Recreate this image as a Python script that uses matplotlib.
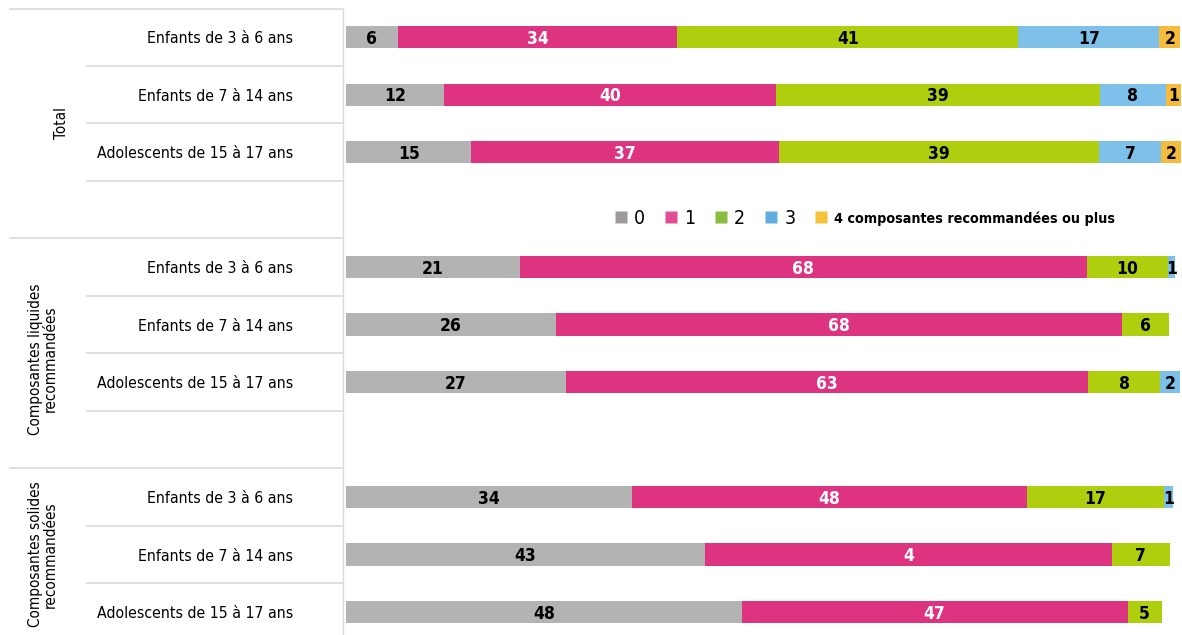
import matplotlib
matplotlib.use("Agg")
import matplotlib.pyplot as plt
from matplotlib.lines import Line2D
from matplotlib import font_manager
from matplotlib.font_manager import FontProperties
import matplotlib.transforms as mtransforms
import numpy as np
import os

# ---------------- data ----------------
categories = ["Enfants de 3 à 6 ans", "Enfants de 7 à 14 ans", "Adolescents de 15 à 17 ans",
              "",
              "Enfants de 3 à 6 ans", "Enfants de 7 à 14 ans", "Adolescents de 15 à 17 ans",
              "",
              "Enfants de 3 à 6 ans", "Enfants de 7 à 14 ans", "Adolescents de 15 à 17 ans"]
groups = ["Total", "Composantes liquides\nrecommandées", "Composantes solides\nrecommandées"]
series_names = ["0", "1", "2", "3", "4 composantes recommandées ou plus"]

# bar lengths (percent); spacer rows are zero
s0 = [6.2, 11.7, 15.0, 0, 20.8, 25.1, 26.3, 0, 34.2, 43.0, 47.4]
s1 = [33.5, 39.8, 36.8, 0, 67.9, 67.8, 62.6, 0, 47.3, 48.7, 46.2]
s2 = [40.8, 38.8, 38.4, 0, 9.7, 5.7, 8.6, 0, 16.5, 7.0, 4.1]
s3 = [16.9, 7.9, 7.4, 0, 0.9, 0, 2.4, 0, 1.0, 0, 0]
s4 = [2.5, 1.8, 2.4, 0, 0, 0, 0, 0, 0, 0, 0]

# printed labels
l0 = ["6", "12", "15", "", "21", "26", "27", "", "34", "43", "48"]
l1 = ["34", "40", "37", "", "68", "68", "63", "", "48", "4", "47"]
l2 = ["41", "39", "39", "", "10", "6", "8", "", "17", "7", "5"]
l3 = ["17", "8", "7", "", "1", "", "2", "", "1", "", ""]
l4 = ["2", "1", "2", "", "", "", "", "", "", "", ""]

colors = ["#b3b3b3", "#de3381", "#afcf0e", "#7dc1ea", "#f5bb3c"]
legend_colors = ["#9e9a9a", "#e04f96", "#88bd3f", "#62aee0", "#f3c13a"]
text_colors = ["black", "white", "black", "black", "black"]


# ---------------- fonts: prefer a condensed face ----------------
def pick_font(bold):
    entries = font_manager.fontManager.ttflist
    def isbold(f):
        w = f.weight if isinstance(f.weight, int) else {"bold": 700, "normal": 400}.get(f.weight, 400)
        return w >= 600
    prefs = [
        lambda f: f.name == "Liberation Sans Narrow",
        lambda f: f.name == "DejaVu Sans" and "Condensed" in os.path.basename(f.fname),
        lambda f: "Condensed" in f.name or "Narrow" in f.name,
    ]
    for p in prefs:
        cands = [f for f in entries if p(f) and isbold(f) == bold
                 and "Oblique" not in f.fname and "Italic" not in f.fname
                 and f.style == "normal"]
        if cands:
            return FontProperties(fname=cands[0].fname)
    return FontProperties(family="DejaVu Sans", weight="bold" if bold else "normal")


FP = pick_font(False)
FPB = pick_font(True)


def fp(size, bold=False):
    p = (FPB if bold else FP).copy()
    p.set_size(size)
    return p


# ---------------- figure ----------------
W, H = 1182, 635
fig = plt.figure(figsize=(W / 100, H / 100), dpi=100)
ax = fig.add_axes([343 / W, 0, (1181 - 343) / W, 1 - 8.5 / H])

y = np.arange(len(categories))
series = [s0, s1, s2, s3, s4]
labels = [l0, l1, l2, l3, l4]
left = np.zeros(len(categories))
for vals, labs, c, tc in zip(series, labels, colors, text_colors):
    vals = np.array(vals, dtype=float)
    ax.barh(y, vals, left=left, height=0.39, color=c, edgecolor="none")
    for yi, (v, l, x0) in enumerate(zip(vals, labs, left)):
        if l:
            ax.text(x0 + v / 2, yi + 0.03, l, ha="center", va="center",
                    color=tc, fontproperties=fp(12.5, True))
    left += vals

ax.set_xlim(-0.36, 100)
ax.set_ylim(10.4, -0.5)
ax.set_xticks([])
ax.set_yticks(y)
ax.set_yticklabels(categories)
for t in ax.get_yticklabels():
    t.set_fontproperties(fp(11.3))
ax.tick_params(axis="y", length=0, pad=36)
for s in ["top", "right", "bottom"]:
    ax.spines[s].set_visible(False)
ax.spines["left"].set_color("#d9d9d9")
ax.spines["left"].set_linewidth(1)

# separator lines
tr = mtransforms.blended_transform_factory(fig.transFigure, ax.transData)
full_lines = [-0.5, 3.5, 7.5]
short_lines = [0.5, 1.5, 2.5, 4.5, 5.5, 6.5, 8.5, 9.5]
for yl in full_lines:
    fig.add_artist(Line2D([10 / W, 343 / W], [yl, yl], transform=tr,
                          color="#dadada", lw=1.2))
for yl in short_lines:
    fig.add_artist(Line2D([87 / W, 343 / W], [yl, yl], transform=tr,
                          color="#dadada", lw=1.2))

# group labels
group_y = [1.5, 5.6, 9.0]
for g, gy in zip(groups, group_y):
    fig.text(43 / W if "\n" in g else 62 / W, gy, g, transform=tr, rotation=90,
             ha="center", va="center", fontproperties=fp(11), linespacing=1.0)

# legend
handles = [Line2D([], [], marker="s", linestyle="none", markersize=8.5,
                  markerfacecolor=c, markeredgecolor="none") for c in legend_colors]
leg = fig.legend(handles, series_names, loc="center", ncol=5,
                 bbox_to_anchor=(864 / W, 1 - 218 / H), frameon=False,
                 handlelength=0.8, handletextpad=0.3, columnspacing=0.9,
                 prop=fp(14))
for i, t in enumerate(leg.get_texts()):
    if i == 4:
        t.set_fontproperties(fp(10.3, True))

fig.savefig("out.png", dpi=100)
